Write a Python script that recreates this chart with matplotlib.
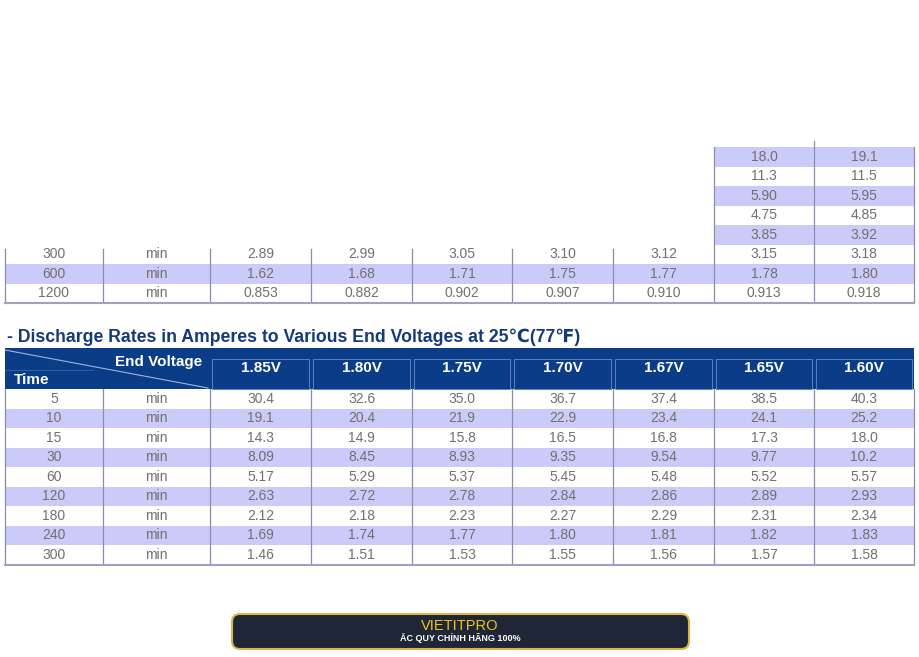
import matplotlib
matplotlib.use("Agg")
import matplotlib.pyplot as plt
from matplotlib.patches import Rectangle, FancyBboxPatch

plt.rcParams['font.family'] = ['Liberation Sans', 'DejaVu Sans']

# ---- data ----
voltages = ["1.85V", "1.80V", "1.75V", "1.70V", "1.67V", "1.65V", "1.60V"]

# upper table (only its tail is visible)
upper_partial_165 = ["18.0", "11.3", "5.90", "4.75", "3.85"]
upper_partial_160 = ["19.1", "11.5", "5.95", "4.85", "3.92"]
upper_times = ["300", "600", "1200"]
upper_rows = [
    ["2.89", "2.99", "3.05", "3.10", "3.12", "3.15", "3.18"],
    ["1.62", "1.68", "1.71", "1.75", "1.77", "1.78", "1.80"],
    ["0.853", "0.882", "0.902", "0.907", "0.910", "0.913", "0.918"],
]

# discharge rates table
times = ["5", "10", "15", "30", "60", "120", "180", "240", "300"]
rates = [
    ["30.4", "32.6", "35.0", "36.7", "37.4", "38.5", "40.3"],
    ["19.1", "20.4", "21.9", "22.9", "23.4", "24.1", "25.2"],
    ["14.3", "14.9", "15.8", "16.5", "16.8", "17.3", "18.0"],
    ["8.09", "8.45", "8.93", "9.35", "9.54", "9.77", "10.2"],
    ["5.17", "5.29", "5.37", "5.45", "5.48", "5.52", "5.57"],
    ["2.63", "2.72", "2.78", "2.84", "2.86", "2.89", "2.93"],
    ["2.12", "2.18", "2.23", "2.27", "2.29", "2.31", "2.34"],
    ["1.69", "1.74", "1.77", "1.80", "1.81", "1.82", "1.83"],
    ["1.46", "1.51", "1.53", "1.55", "1.56", "1.57", "1.58"],
]

title = "- Discharge Rates in Amperes to Various End Voltages at 25\u2103(77\u2109)"
brand = "VIETITPRO"
slogan = "ẮC QUY CHÍNH HÃNG 100%"

# ---- layout (pixel space) ----
col_edges = [5, 103, 210, 311, 412, 512, 613, 714, 814, 914]
row_h = 19.5
shade = "#cbcbf9"
txt_gray = "#707070"
grid_col = "#8c8cab"
navy = "#0b3c88"
fs_val = 10

fig = plt.figure(figsize=(9.2, 6.57), dpi=100)
ax = fig.add_axes([0, 0, 1, 1])
ax.set_xlim(0, 920)
ax.set_ylim(657, 0)
ax.axis("off")


def centers(i):
    return (col_edges[i] + col_edges[i + 1]) / 2


# upper partial table: last two columns
top0 = 147
for r, (a, b) in enumerate(zip(upper_partial_165, upper_partial_160)):
    y0 = top0 + r * row_h
    if r % 2 == 0:
        ax.add_patch(Rectangle((col_edges[7], y0), col_edges[9] - col_edges[7], row_h,
                               color=shade, lw=0))
    ax.text(centers(7), y0 + row_h / 2, a, ha="center", va="center", fontsize=fs_val, color=txt_gray)
    ax.text(centers(8), y0 + row_h / 2, b, ha="center", va="center", fontsize=fs_val, color=txt_gray)

y_up = top0 + len(upper_partial_165) * row_h
for r, (t, vals) in enumerate(zip(upper_times, upper_rows)):
    y0 = y_up + r * row_h
    if r % 2 == 1:
        ax.add_patch(Rectangle((col_edges[0], y0), col_edges[-1] - col_edges[0], row_h,
                               color=shade, lw=0))
    yc = y0 + row_h / 2
    ax.text(centers(0), yc, t, ha="center", va="center", fontsize=fs_val, color=txt_gray)
    ax.text(centers(1), yc, "min", ha="center", va="center", fontsize=fs_val, color=txt_gray)
    for c, v in enumerate(vals):
        ax.text(centers(c + 2), yc, v, ha="center", va="center", fontsize=fs_val, color=txt_gray)
y_up_end = y_up + len(upper_times) * row_h
for i, x in enumerate(col_edges):
    ys = top0 - 6 if i == 8 else (top0 if i in (7, 9) else y_up + 4)
    ax.plot([x, x], [ys, y_up_end], color=grid_col, lw=0.9)
ax.plot([col_edges[0], col_edges[-1]], [y_up_end, y_up_end], color="#a0a0c0", lw=1.5)

# title
ax.text(7, 337, title, ha="left", va="center", fontsize=12.7, fontweight="bold", color="#163a78")

# header band
h_top, h_bot = 348, 389
ax.add_patch(Rectangle((col_edges[0], h_top), col_edges[-1] - col_edges[0], h_bot - h_top,
                       color=navy, lw=0))
ax.plot([col_edges[0], col_edges[2] - 2], [h_top + 2, h_bot - 1], color="#9fb4dc", lw=0.8)
ax.plot([col_edges[0], col_edges[1] - 10], [370, 370], color="#3d64a8", lw=0.6)
ax.text(202, 362, "End Voltage", ha="right", va="center", fontsize=11, fontweight="bold", color="white")
ax.text(14, 380, "Time", ha="left", va="center", fontsize=11, fontweight="bold", color="white")
for c, v in enumerate(voltages):
    x0 = col_edges[c + 2] + 2
    w = col_edges[c + 3] - col_edges[c + 2] - 4
    ax.add_patch(Rectangle((x0, 359), w, h_bot - 359, fill=False, ec="#5d7fbf", lw=0.7))
    ax.text(centers(c + 2), 368.5, v, ha="center", va="center", fontsize=11,
            fontweight="bold", color="white")

# data rows
for r, (t, vals) in enumerate(zip(times, rates)):
    y0 = h_bot + r * row_h
    if r % 2 == 1:
        ax.add_patch(Rectangle((col_edges[0], y0), col_edges[-1] - col_edges[0], row_h,
                               color=shade, lw=0))
    yc = y0 + row_h / 2
    ax.text(centers(0), yc, t, ha="center", va="center", fontsize=fs_val, color=txt_gray)
    ax.text(centers(1), yc, "min", ha="center", va="center", fontsize=fs_val, color=txt_gray)
    for c, v in enumerate(vals):
        ax.text(centers(c + 2), yc, v, ha="center", va="center", fontsize=fs_val, color=txt_gray)
y_end = h_bot + len(times) * row_h
for x in col_edges:
    ax.plot([x, x], [h_bot, y_end], color=grid_col, lw=0.9)
ax.plot([col_edges[0], col_edges[-1]], [y_end, y_end], color="#a0a0c0", lw=1.5)

# banner
ax.add_patch(FancyBboxPatch((232, 614), 457, 35, boxstyle="round,pad=0,rounding_size=8",
                            fc="#1f2637", ec="#d9b54a", lw=1.5, mutation_aspect=1))
ax.text(460, 626.5, brand, ha="center", va="center", fontsize=10.5, color="#f2c21b")
ax.text(460, 638, slogan, ha="center", va="center", fontsize=6.5, fontweight="bold", color="white")

fig.savefig("out.png", dpi=100)
